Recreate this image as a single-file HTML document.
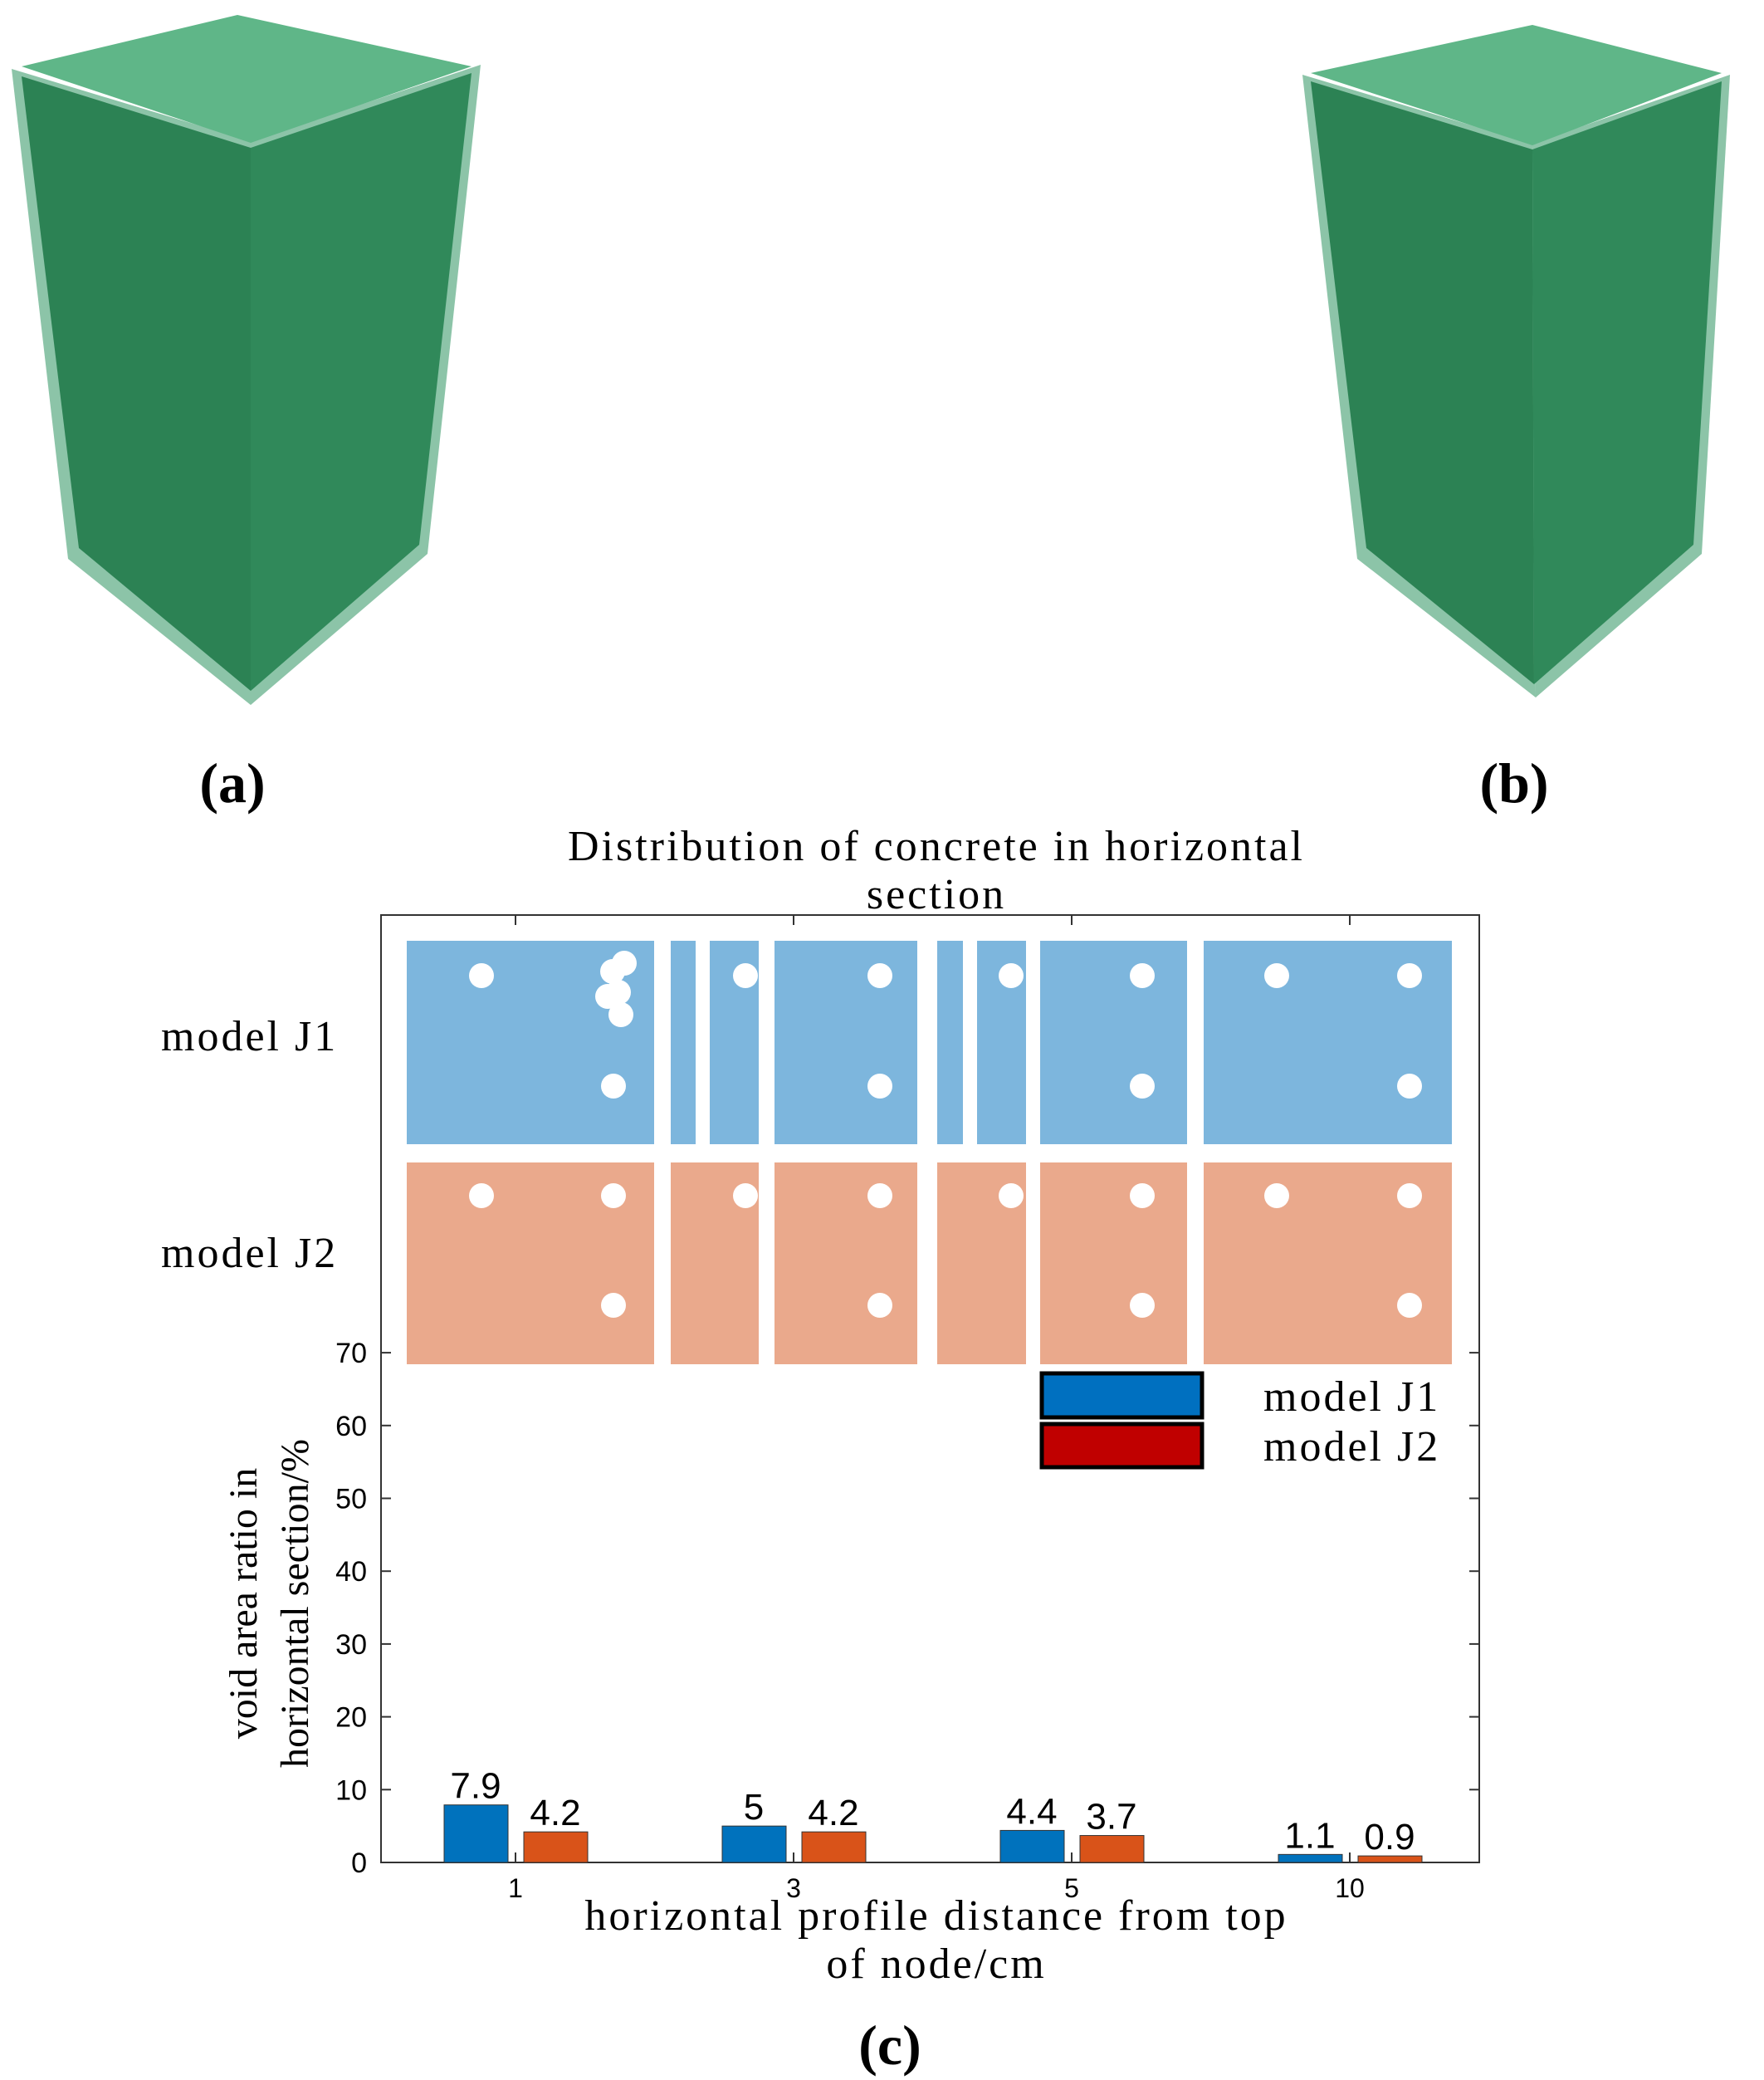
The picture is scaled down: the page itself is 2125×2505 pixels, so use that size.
<!DOCTYPE html>
<html><head><meta charset="utf-8"><style>
html,body{margin:0;padding:0;background:#fff;}
svg{display:block;}
</style></head><body>
<svg id="fig" width="2125" height="2505" viewBox="0 0 2125 2505" xmlns="http://www.w3.org/2000/svg">
<g>
  <polygon points="14,83 302,170 302,849 82,673" fill="#8cc4a8"/>
  <polygon points="302,170 579,78 515,667 302,849" fill="#8cc4a8"/>
  <polygon points="26,92 302,178 302,832 95,660" fill="#2c8254"/>
  <polygon points="302,178 568,88 505,656 302,832" fill="#30895a"/>
  <polygon points="26,80 286,18 568,80 302,172" fill="#5fb688"/>
</g>
<g>
  <polygon points="1569,90 1846,173 1850,840 1635,673" fill="#8cc4a8"/>
  <polygon points="1846,173 2084,90 2050,667 1850,840" fill="#8cc4a8"/>
  <polygon points="1579,98 1846,180 1848,824 1646,660" fill="#2c8254"/>
  <polygon points="1846,180 2074,98 2040,656 1848,824" fill="#30895a"/>
  <polygon points="1579,88 1846,30 2074,88 1846,175" fill="#5fb688"/>
</g>
<g font-family="Liberation Serif, serif" font-weight="bold" font-size="68" text-anchor="middle">
<text x="280" y="966">(a)</text>
<text x="1824" y="966">(b)</text>
<text x="1072" y="2486">(c)</text>
</g>
<g font-family="Liberation Serif, serif" font-size="52" letter-spacing="3" fill="#000">
<text x="1128" y="1036" text-anchor="middle">Distribution of concrete in horizontal</text>
<text x="1128" y="1094" text-anchor="middle">section</text>
<text x="194" y="1265">model J1</text>
<text x="194" y="1526">model J2</text>
<text x="1128" y="2324" text-anchor="middle">horizontal profile distance from top</text>
<text x="1128" y="2382" text-anchor="middle">of node/cm</text>
<text x="1522" y="1699">model J1</text>
<text x="1522" y="1759">model J2</text>
</g>
<g font-family="Liberation Serif, serif" font-size="48" fill="#000">
<g transform="translate(293,1931) rotate(-90)"><text x="0" y="16" text-anchor="middle">void area ratio in</text></g>
<g transform="translate(355,1931) rotate(-90)"><text x="0" y="16" text-anchor="middle">horizontal section/%</text></g>
</g>
<rect x="459" y="1102" width="1323" height="1141" fill="none" stroke="#333" stroke-width="2"/>
<g id="sections"></g>
<g id="axes"></g>
<g id="bars"></g>
<rect x="1255" y="1654" width="193" height="53" fill="#0070c0" stroke="#000" stroke-width="5"/>
<rect x="1255" y="1715" width="193" height="52" fill="#c00000" stroke="#000" stroke-width="5"/>
</svg>
<script>
const categories = ["1","3","5","10"];
const j1Values = [7.9, 5, 4.4, 1.1];
const j2Values = [4.2, 4.2, 3.7, 0.9];
const yTicks = [0,10,20,30,40,50,60,70];
const NS="http://www.w3.org/2000/svg";
function el(tag, attrs, parent){const e=document.createElementNS(NS,tag);for(const k in attrs)e.setAttribute(k,attrs[k]);parent.appendChild(e);return e;}
const y0=2243, pxPer=8.77;
function yScale(v){return y0 - v*pxPer;}
function xScale(i){return 621 + i*335;}
const axes=document.getElementById('axes');
yTicks.forEach(t=>{
  const y=yScale(t);
  const l=el('line',{x1:459,x2:471,y1:y,y2:y,stroke:'#333','stroke-width':2},axes);
  
  
  const l2=el('line',{x1:1770,x2:1782,y1:y,y2:y,stroke:'#333','stroke-width':2},axes);
  
  
  const tx=el('text',{x:442,y:y+12,'text-anchor':'end','font-family':'Liberation Sans, sans-serif','font-size':34},axes);
  tx.textContent=t;
  
  
});
categories.forEach((c,i)=>{
  const x=xScale(i);
  const l=el('line',{x1:x,x2:x,y1:2243,y2:2231,stroke:'#333','stroke-width':2},axes);
  
  
  const l2=el('line',{x1:x,x2:x,y1:1102,y2:1114,stroke:'#333','stroke-width':2},axes);
  
  
  const tx=el('text',{x:x,y:2285,'text-anchor':'middle','font-family':'Liberation Sans, sans-serif','font-size':32},axes);
  tx.textContent=c;
  
  
});
const bars=document.getElementById('bars');
function drawBar(v,cx,color,name){
  const y=yScale(v);
  const r=el('rect',{x:cx-38,y:y,width:77,height:y0-y,fill:color,stroke:'#333','stroke-width':1},bars);
  
  
  const t=el('text',{x:cx,y:y-8,'text-anchor':'middle','font-family':'Liberation Sans, sans-serif','font-size':44},bars);
  t.textContent=v;
  
  
}
categories.forEach((c,i)=>{
  drawBar(j1Values[i],xScale(i)-48,'#0072bd','bar-j1');
  drawBar(j2Values[i],xScale(i)+48,'#d95319','bar-j2');
});
const sec=document.getElementById('sections');
const blueStrips=[[490,788],[808,838],[855,914],[933,1105],[1129,1160],[1177,1236],[1253,1430],[1450,1749]];
const redStrips=[[490,788],[808,914],[933,1105],[1129,1236],[1253,1430],[1450,1749]];
blueStrips.forEach(s=>{const r=el('rect',{x:s[0],y:1133,width:s[1]-s[0],height:245,fill:'#7db6dd'},sec);
  });
redStrips.forEach(s=>{const r=el('rect',{x:s[0],y:1400,width:s[1]-s[0],height:243,fill:'#eaa98c'},sec);
  });
[[580,1175],[739,1308],[898,1175],[1060,1175],[1060,1308],[1218,1175],[1376,1175],[1376,1308],[1538,1175],[1698,1175],[1698,1308],
 [580,1440],[739,1440],[739,1572],[898,1440],[1060,1440],[1060,1572],[1218,1440],[1376,1440],[1376,1572],[1538,1440],[1698,1440],[1698,1572],
 [738,1170],[752,1160],[745,1195],[732,1200],[748,1222]].forEach(p=>{const c=el('circle',{cx:p[0],cy:p[1],r:15,fill:'#fff'},sec);
  });
</script>
</body></html>
